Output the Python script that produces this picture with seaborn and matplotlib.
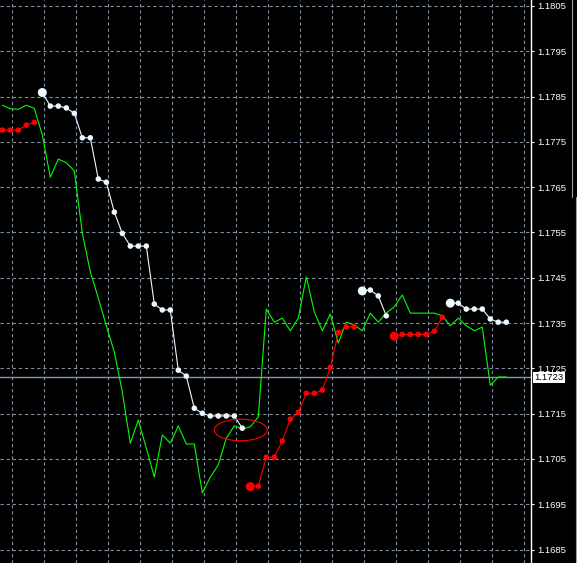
import numpy as np
import pandas as pd
import seaborn as sns
import matplotlib.pyplot as plt
from matplotlib.patches import Ellipse
from matplotlib.lines import Line2D
from matplotlib.transforms import blended_transform_factory

# green price line, one value per bar (bars 0..63)
green = [1.17831, 1.17823, 1.17822, 1.17831, 1.17824, 1.17765, 1.17672, 1.17712,
         1.17704, 1.17686, 1.17549, 1.17463, 1.17405, 1.17344, 1.17286, 1.17198,
         1.17085, 1.17136, 1.17074, 1.17010, 1.17103, 1.17085, 1.17123, 1.17083,
         1.17083, 1.16975, 1.17010, 1.17037, 1.17096, 1.17123, 1.17116, 1.17121,
         1.17143, 1.17381, 1.17352, 1.17361, 1.17333, 1.17361, 1.17452, 1.17375,
         1.17333, 1.17370, 1.17306, 1.17352, 1.17346, 1.17333, 1.17372, 1.17352,
         1.17372, 1.17386, 1.17412, 1.17372, 1.17372, 1.17372, 1.17372, 1.17366,
         1.17344, 1.17361, 1.17344, 1.17333, 1.17341, 1.17213, 1.17231, 1.17231]

# white dotted segments (first bar, values)
white_1_start = 5
white_1 = [1.17859, 1.17829, 1.17829, 1.17825, 1.17813, 1.17759, 1.17759, 1.17668,
           1.17661, 1.17595, 1.17548, 1.17520, 1.17520, 1.17520, 1.17392, 1.17379,
           1.17379, 1.17246, 1.17233, 1.17162, 1.17151, 1.17145, 1.17145, 1.17145,
           1.17145, 1.17118]
white_2_start = 45
white_2 = [1.17421, 1.17423, 1.17410, 1.17366]
white_3_start = 56
white_3 = [1.17394, 1.17394, 1.17381, 1.17381, 1.17381, 1.17359, 1.17352, 1.17352]

# red dotted segments
red_1_start = 0
red_1 = [1.17776, 1.17776, 1.17776, 1.17787, 1.17793]
red_2_start = 31
red_2 = [1.16989, 1.16990, 1.17054, 1.17054, 1.17090, 1.17138, 1.17153, 1.17195,
         1.17195, 1.17202, 1.17252, 1.17329, 1.17342, 1.17342]
red_3_start = 49
red_3 = [1.17321, 1.17325, 1.17325, 1.17325, 1.17325, 1.17332, 1.17363]

price_ticks = [1.1685, 1.1695, 1.1705, 1.1715, 1.1725, 1.1735, 1.1745, 1.1755,
               1.1765, 1.1775, 1.1785, 1.1795, 1.1805]
last_price = 1.1723

sns.set_theme(style="dark", rc={"axes.facecolor": "black", "figure.facecolor": "black"})
plt.rcParams['font.family'] = ['Liberation Sans', 'DejaVu Sans']

fig = plt.figure(figsize=(5.77, 5.63), dpi=100)
ax = fig.add_axes([0, 0, 531 / 577, 1])
ax.set_facecolor("black")

grid_kw = dict(color="#7f8c9c", lw=0.8, ls=(0, (3, 2.5)), zorder=0)
for gx in np.arange(1.19, 66, 4):
    ax.axvline(gx, **grid_kw)
for gy in price_ticks:
    ax.axhline(gy, **grid_kw)

ax.axhline(last_price, color="#8a96a6", lw=1.0, zorder=1)

bars = np.arange(len(green))
sns.lineplot(x=bars, y=green, ax=ax, color="#00ff00", linewidth=0.8,
             estimator=None, sort=False, zorder=2)


def dotted(start, vals, color, big):
    xs = np.arange(start, start + len(vals))
    df = pd.DataFrame({"bar": xs, "price": vals})
    sns.lineplot(data=df, x="bar", y="price", ax=ax, color=color, linewidth=0.8,
                 estimator=None, sort=False, zorder=3)
    sns.scatterplot(data=df, x="bar", y="price", ax=ax, color=color, s=16,
                    linewidth=0, edgecolor="none", zorder=4)
    if big:
        sns.scatterplot(data=df.iloc[:1], x="bar", y="price", ax=ax, color=color,
                        s=42, linewidth=0, edgecolor="none", zorder=5)


dotted(red_1_start, red_1, "#ff0000", False)
dotted(red_2_start, red_2, "#ff0000", True)
dotted(red_3_start, red_3, "#ff0000", True)
dotted(white_1_start, white_1, "#eef8ff", True)
dotted(white_2_start, white_2, "#eef8ff", True)
dotted(white_3_start, white_3, "#eef8ff", True)

ax.add_patch(Ellipse((29.8, 1.17114), 6.6, 0.000475, fill=False,
                     edgecolor="#ff0000", lw=0.8, zorder=6))

ax.set_xlim(-0.29, 66.09)
ax.set_ylim(1.168204, 1.180632)
ax.set_xlabel("")
ax.set_ylabel("")
ax.set_xticks([])
ax.yaxis.tick_right()
ax.set_yticks(price_ticks)
ax.set_yticklabels([f"{p:.4f}" for p in price_ticks])
ax.tick_params(axis="y", which="both", direction="out", length=2.5, width=0.8,
               color="white", labelcolor="white", labelsize=6.8, pad=2, right=True, left=False)
ax.grid(False)
for side in ["top", "left", "bottom"]:
    ax.spines[side].set_visible(False)
ax.spines["right"].set_color("white")
ax.spines["right"].set_linewidth(1.0)

trans = blended_transform_factory(ax.transAxes, ax.transData)
ax.text(1.006, last_price, f"{last_price:.4f}", transform=trans, ha="left", va="center",
        color="black", fontsize=6.8, clip_on=False, zorder=10,
        bbox=dict(boxstyle="square,pad=0.15", fc="white", ec="none"))

fig.add_artist(Line2D([572 / 577, 572 / 577], [1, 1 - 197 / 563], color="#a0a0a0", lw=0.8))
fig.add_artist(Line2D([576 / 577, 576 / 577], [0, 1 - 197 / 563], color="#a0a0a0", lw=0.8))

fig.savefig("out.png", dpi=100, facecolor="black")
